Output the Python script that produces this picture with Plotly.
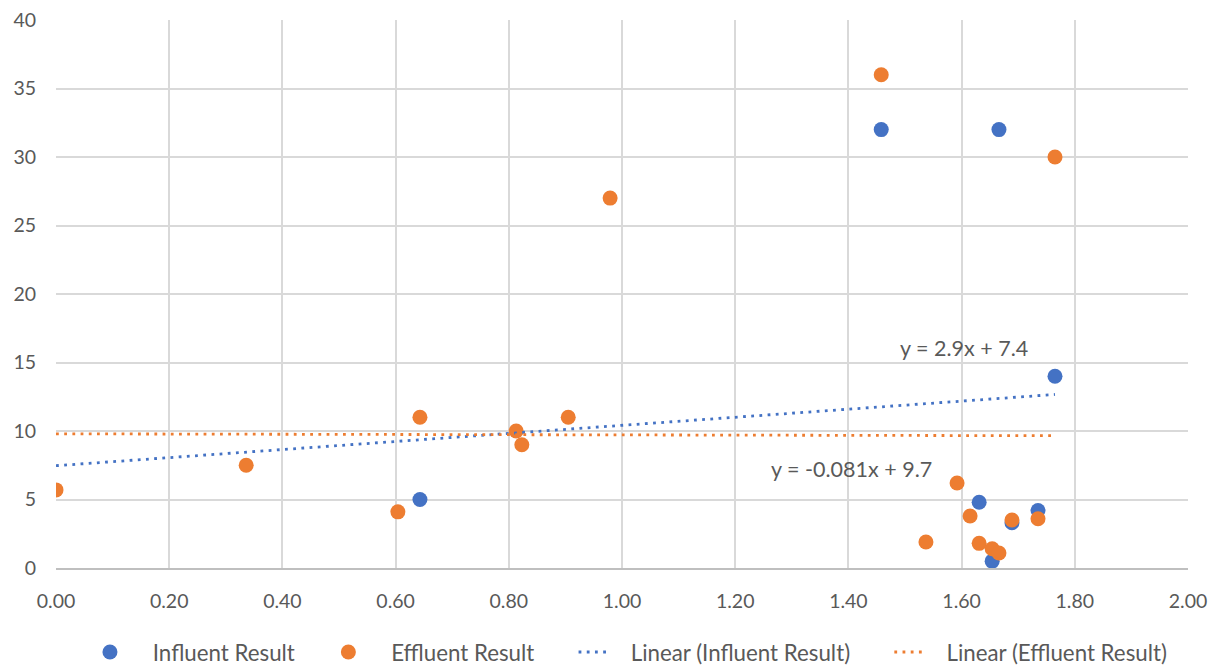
import numpy as np
import plotly.graph_objects as go

# Influent Result
inf_x = [0.643, 1.458, 1.666, 1.765, 1.631, 1.735, 1.689, 1.654]
inf_y = [5.0, 32.0, 32.0, 14.0, 4.8, 4.2, 3.3, 0.5]

# Effluent Result
eff_x = [0.0, 0.336, 0.604, 0.643, 0.813, 0.823, 0.905, 0.979, 1.458, 1.765,
         1.592, 1.615, 1.537, 1.631, 1.654, 1.666, 1.689, 1.735]
eff_y = [5.7, 7.5, 4.1, 11.0, 10.0, 9.0, 11.0, 27.0, 36.0, 30.0,
         6.2, 3.8, 1.9, 1.8, 1.4, 1.1, 3.5, 3.6]

trend_x_range = [0.0, 1.765]
inf_label = "y = 2.9x + 7.4"
eff_label = "y = -0.081x + 9.7"
x_ticks = [0.0, 0.2, 0.4, 0.6, 0.8, 1.0, 1.2, 1.4, 1.6, 1.8, 2.0]
series_names = ["Influent Result", "Effluent Result",
                "Linear (Influent Result)", "Linear (Effluent Result)"]

BLUE = "#4472C4"
ORANGE = "#ED7D31"
FONT = "Lato"
GREY = "#595959"
NB = "\u00a0"

mi, bi = np.polyfit(inf_x, inf_y, 1)
me, be = np.polyfit(eff_x, eff_y, 1)
tx = np.array(trend_x_range)

legend_names = [NB * 4 + series_names[0] + NB * 5,
                NB * 4 + series_names[1] + NB * 6,
                NB * 3 + series_names[2] + NB * 6,
                NB * 3 + series_names[3]]

fig = go.Figure()
fig.add_trace(go.Scatter(x=inf_x, y=inf_y, mode="markers", name=legend_names[0],
                         marker=dict(color=BLUE, size=15)))
fig.add_trace(go.Scatter(x=eff_x, y=eff_y, mode="markers", name=legend_names[1],
                         marker=dict(color=ORANGE, size=15)))
fig.add_trace(go.Scatter(x=tx, y=mi * tx + bi, mode="lines", name=legend_names[2],
                         line=dict(color=BLUE, width=2.8, dash="2.8px,5.4px")))
fig.add_trace(go.Scatter(x=tx, y=me * tx + be, mode="lines", name=legend_names[3],
                         line=dict(color=ORANGE, width=2.8, dash="2.8px,5.4px")))

fig.add_annotation(x=1.604, y=16.06, text=inf_label, showarrow=False,
                   font=dict(family=FONT, size=21.5, color=GREY))
fig.add_annotation(x=1.405, y=7.24, text=eff_label, showarrow=False,
                   font=dict(family=FONT, size=21.5, color=GREY))

fig.update_layout(
    width=1223, height=668,
    margin=dict(l=48, r=43, t=12, b=108, autoexpand=False),
    plot_bgcolor="white", paper_bgcolor="white",
    font=dict(family=FONT, size=19.5, color=GREY),
    showlegend=True,
    legend=dict(orientation="h", x=0.0300, xanchor="left", y=-0.1533, yanchor="middle",
                font=dict(family=FONT, size=22.3, color=GREY), tracegroupgap=0),
    xaxis=dict(range=[0, 2.0], tickvals=x_ticks, tickformat=".2f", automargin=False,
               showgrid=True, gridcolor="#D9D9D9", gridwidth=1.5,
               zeroline=False, showline=True, linecolor="#BFBFBF", linewidth=1.5,
               ticks="", ticklabelstandoff=15, ticklabeloverflow="allow",
               tickfont=dict(size=19.5, color=GREY)),
    yaxis=dict(range=[0, 40], dtick=5, automargin=False,
               showgrid=True, gridcolor="#D9D9D9", gridwidth=1.5,
               zeroline=False, showline=False,
               ticks="", ticklabelstandoff=19, ticklabeloverflow="allow",
               tickfont=dict(size=19.5, color=GREY)),
)

fig.write_html("out.html")
